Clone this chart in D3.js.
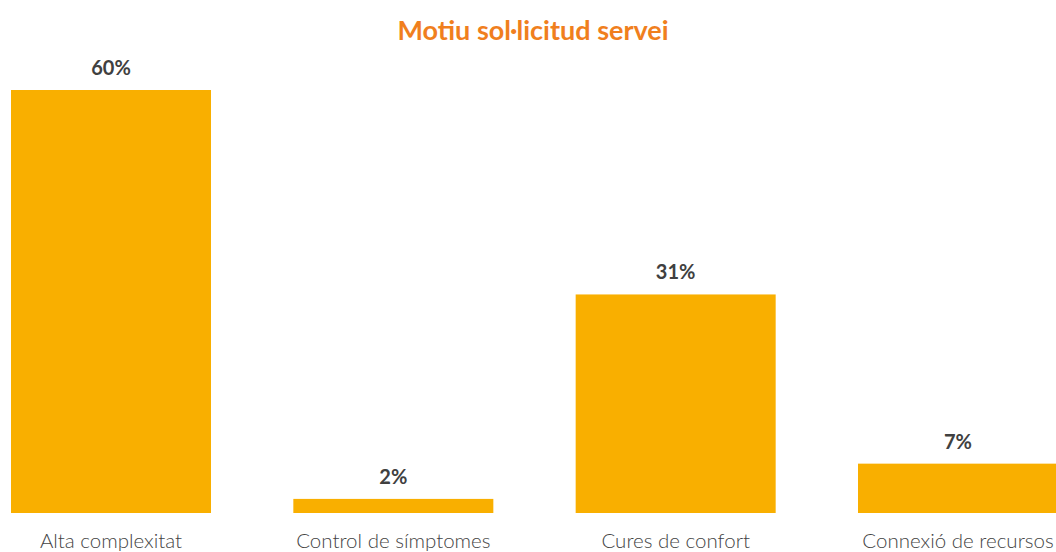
<!DOCTYPE html>
<html><head><meta charset="utf-8">
<script src="https://cdn.jsdelivr.net/npm/d3@7"></script>
<style>body{margin:0;background:#fff;} svg{display:block;}</style>
</head><body>
<svg id="c" width="1056" height="552"></svg>
<script>
const title = "Motiu sol·licitud servei";
const categories = ["Alta complexitat", "Control de símptomes", "Cures de confort", "Connexió de recursos"];
const values = [60, 2, 31, 7];
const valueLabels = ["60%", "2%", "31%", "7%"];

const svg = d3.select("#c");
const x = d3.scaleBand().domain(categories).range([11, 1058]).paddingInner(0.2916).paddingOuter(0);
const y = d3.scaleLinear().domain([0, 60]).range([513, 90]);

svg.append("text").attr("x", 533).attr("y", 40).attr("text-anchor", "middle")
  .attr("font-family", "Lato, 'Open Sans', sans-serif").attr("font-weight", 700)
  .attr("font-size", 27).attr("fill", "#F07F1E").text(title);

const data = categories.map((c, i) => ({c, v: values[i], l: valueLabels[i]}));

svg.selectAll("rect.bar").data(data).join("rect").attr("class", "bar")
  .attr("x", d => x(d.c)).attr("width", x.bandwidth())
  .attr("y", d => y(d.v)).attr("height", d => y(0) - y(d.v))
  .attr("fill", "#F9AF00");

svg.selectAll("text.val").data(data).join("text").attr("class", "val")
  .attr("x", d => x(d.c) + x.bandwidth() / 2).attr("y", d => y(d.v) - 15)
  .attr("text-anchor", "middle").attr("font-family", "Lato, 'Open Sans', sans-serif")
  .attr("font-weight", 700).attr("font-size", 20).attr("fill", "#404040").text(d => d.l);

const xAxis = d3.axisBottom(x).tickSize(0).tickPadding(0);
const ax = svg.append("g").attr("transform", `translate(0,${y(0)})`).call(xAxis);
ax.select(".domain").remove();
ax.selectAll("text").attr("dy", 0).attr("y", 35)
  .attr("font-family", "Lato, 'Open Sans', sans-serif").attr("font-weight", 300)
  .attr("font-size", 20.5).attr("fill", "#444");
</script>
</body></html>
